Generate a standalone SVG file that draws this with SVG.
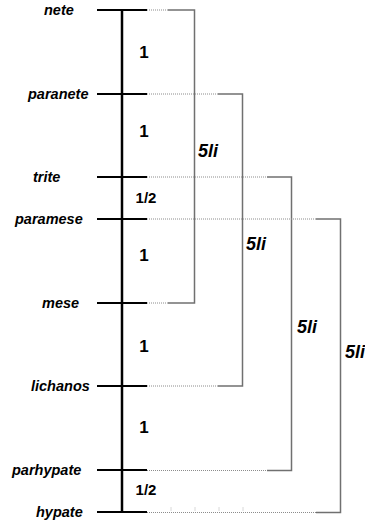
<svg xmlns="http://www.w3.org/2000/svg" width="365" height="524" viewBox="0 0 365 524">
  <style>
    .axis { stroke: #000; stroke-width: 2.5; fill: none; }
    .tick { stroke: #000; stroke-width: 2; fill: none; }
    .dot { stroke: #8c8c8c; stroke-width: 1; stroke-dasharray: 1 1; fill: none; }
    .brk { stroke: #707070; stroke-width: 1.5; fill: none; }
    .mark { stroke: #d8d8d8; stroke-width: 1; }
    .name { font-family: "Liberation Sans", Arial, sans-serif; font-size: 14.5px; font-weight: bold; font-style: italic; fill: #000; }
    .step { font-family: "Liberation Sans", Arial, sans-serif; font-size: 17px; font-weight: bold; fill: #000; text-anchor: middle; }
    .half { font-family: "Liberation Sans", Arial, sans-serif; font-size: 15px; font-weight: bold; fill: #000; text-anchor: middle; }
    .fifth { font-family: "Liberation Sans", Arial, sans-serif; font-size: 18px; font-weight: bold; font-style: italic; fill: #000; }
  </style>

  <!-- string scale: axis and note ticks -->
  <g id="scale">
    <line class="axis" x1="122" y1="10" x2="122" y2="513"/>
  </g>

  <g id="nete">
    <line class="tick" x1="97" y1="10" x2="147" y2="10"/>
    <text class="name" x="44" y="15">nete</text>
  </g>
  <g id="paranete">
    <line class="tick" x1="97" y1="94" x2="147" y2="94"/>
    <text class="name" x="28" y="99">paranete</text>
  </g>
  <g id="trite">
    <line class="tick" x1="97" y1="177" x2="147" y2="177"/>
    <text class="name" x="33" y="182">trite</text>
  </g>
  <g id="paramese">
    <line class="tick" x1="97" y1="219" x2="147" y2="219"/>
    <text class="name" x="15" y="224">paramese</text>
  </g>
  <g id="mese">
    <line class="tick" x1="97" y1="303" x2="147" y2="303"/>
    <text class="name" x="42" y="308">mese</text>
  </g>
  <g id="lichanos">
    <line class="tick" x1="97" y1="386" x2="147" y2="386"/>
    <text class="name" x="31" y="391">lichanos</text>
  </g>
  <g id="parhypate">
    <line class="tick" x1="97" y1="470" x2="147" y2="470"/>
    <text class="name" x="12" y="475">parhypate</text>
  </g>
  <g id="hypate">
    <line class="tick" x1="97" y1="512" x2="147" y2="512"/>
    <text class="name" x="36" y="517">hypate</text>
  </g>

  <!-- interval sizes between neighbouring notes -->
  <g id="intervals">
    <text class="step" x="144" y="58">1</text>
    <text class="step" x="144" y="137">1</text>
    <text class="half" x="146" y="203">1/2</text>
    <text class="step" x="144" y="261">1</text>
    <text class="step" x="144" y="352">1</text>
    <text class="step" x="144" y="433">1</text>
    <text class="half" x="146" y="495">1/2</text>
  </g>

  <!-- fifth brackets -->
  <g id="connectors">
    <!-- nete to mese -->
    <line class="dot" x1="147" y1="10" x2="168" y2="10"/>
    <polyline class="brk" points="168,10 194.5,10 194.5,303 168,303"/>
    <line class="dot" x1="147" y1="303" x2="168" y2="303"/>
    <!-- paranete to lichanos -->
    <line class="dot" x1="147" y1="94" x2="218" y2="94"/>
    <polyline class="brk" points="218,94 242.5,94 242.5,386 218,386"/>
    <line class="dot" x1="147" y1="386" x2="218" y2="386"/>
    <!-- trite to parhypate -->
    <line class="dot" x1="147" y1="177" x2="267" y2="177"/>
    <polyline class="brk" points="267,177 291.5,177 291.5,470.5 267,470.5"/>
    <line class="dot" x1="147" y1="470.5" x2="267" y2="470.5"/>
    <!-- paramese to hypate -->
    <line class="dot" x1="147" y1="219" x2="316" y2="219"/>
    <polyline class="brk" points="316,219 340.5,219 340.5,512.5 316,512.5"/>
    <line class="dot" x1="147" y1="512.5" x2="316" y2="512.5"/>
    <!-- faint marks along the lowest line -->
    <line class="mark" x1="171" y1="507" x2="171" y2="511"/>
    <line class="mark" x1="195" y1="507" x2="195" y2="511"/>
    <line class="mark" x1="219" y1="507" x2="219" y2="511"/>
    <line class="mark" x1="243" y1="507" x2="243" y2="511"/>
  </g>

  <g id="fifth-labels">
    <text class="fifth" x="198" y="157">5li</text>
    <text class="fifth" x="246" y="250">5li</text>
    <text class="fifth" x="297" y="333">5li</text>
    <text class="fifth" x="345" y="358">5li</text>
  </g>
</svg>
